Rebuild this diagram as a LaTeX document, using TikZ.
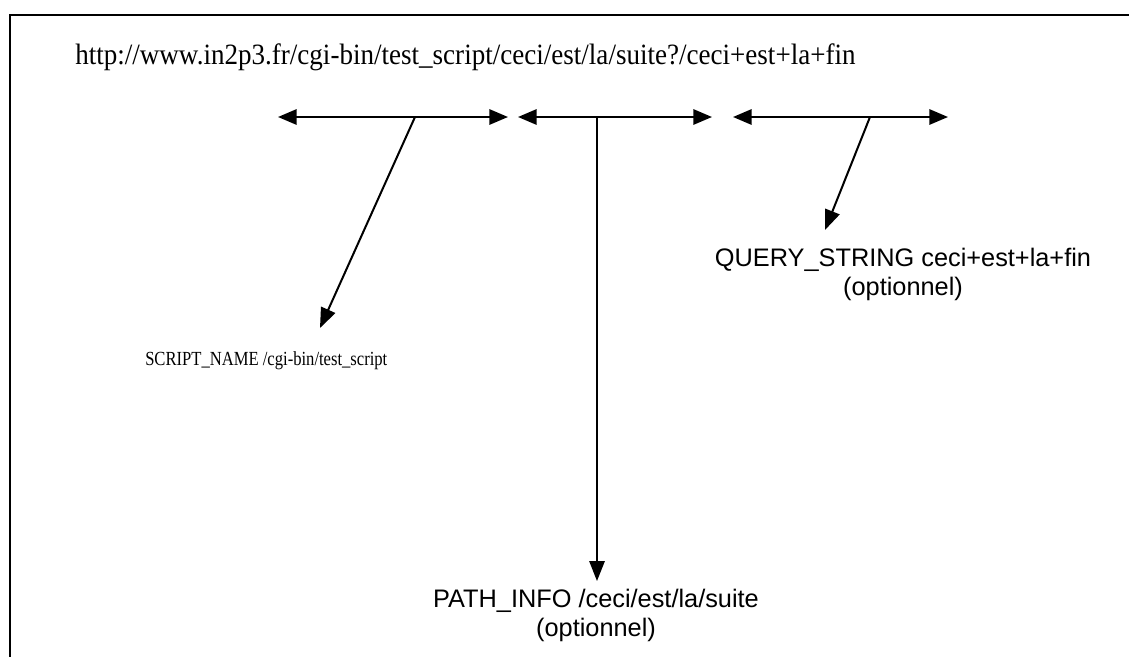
\documentclass[tikz,border=0pt]{standalone}
\usepackage{fontspec}
\setmainfont{Liberation Serif}
\newfontfamily\arialfont{Liberation Sans}
\usetikzlibrary{arrows.meta}
% serif text set slightly narrow, as printed
\newcommand{\narrowtext}[2]{\scalebox{#1}[1]{#2}}
\begin{document}
\begin{tikzpicture}[x=0.75pt,y=-0.75pt,
  frame/.style={line width=1.4pt,black},
  link/.style={line width=1.5pt,black},
  headboth/.style={{Triangle[length=14pt,width=11.5pt]}-{Triangle[length=14pt,width=11.5pt]}},
  headend/.style={-{Triangle[length=15pt,width=11.5pt]}},
  urltext/.style={inner sep=0pt,anchor=base west,font=\fontsize{22.1pt}{26pt}\selectfont},
  serifnote/.style={inner sep=0pt,anchor=base west,font=\fontsize{15pt}{18pt}\selectfont},
  sansnote/.style={inner sep=0pt,anchor=base,align=center,font=\arialfont\fontsize{19pt}{21.75pt}\selectfont}]
  \useasboundingbox (0,0) rectangle (1129,657);
  \fill[white] (0,0) rectangle (1129,657);

  % open frame: top rule and left rule
  \draw[frame] (1129,15) -- (10,15) -- (10,657);

  % the URL being split
  \node[urltext] (url) at (75,64) {\narrowtext{0.918}{http://www.in2p3.fr/cgi-bin/test\_script/ceci/est/la/suite?/ceci+est+la+fin}};

  % spans of the three parts
  \coordinate (s1l) at (278,117); \coordinate (s1r) at (508,117);
  \coordinate (s2l) at (518,117); \coordinate (s2r) at (712,117);
  \coordinate (s3l) at (733,117); \coordinate (s3r) at (948,117);
  \draw[link,headboth] (s1l) -- (s1r);
  \draw[link,headboth] (s2l) -- (s2r);
  \draw[link,headboth] (s3l) -- (s3r);

  % branch points on the spans
  \coordinate (b1) at (415,117);
  \coordinate (b2) at (597,117);
  \coordinate (b3) at (870,117);

  % labels (multi-line labels are anchored on their last baseline)
  \node[serifnote] (script) at (145,365) {\narrowtext{0.83}{SCRIPT\_NAME /cgi-bin/test\_script}};
  \node[sansnote] (query) at (903,295) {QUERY\_STRING ceci+est+la+fin\\(optionnel)};
  \node[sansnote] (path) at (596,636) {PATH\_INFO /ceci/est/la/suite\\(optionnel)};

  % arrow tips above the labels
  \coordinate (t1) at (320,328);
  \coordinate (t2) at (597,581);
  \coordinate (t3) at (825,230);
  \draw[link,headend] (b1) -- (t1);
  \draw[link,headend] (b2) -- (t2);
  \draw[link,headend] (b3) -- (t3);
\end{tikzpicture}
\end{document}
